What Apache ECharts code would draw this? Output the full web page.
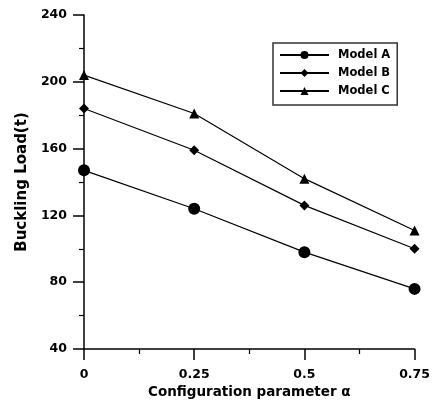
<!DOCTYPE html>
<html>
<head>
    <meta charset="utf-8">
    <title>Buckling Load</title>
    <script src="https://cdn.jsdelivr.net/npm/echarts@6.0.0/dist/echarts.min.js"></script>
    <style>
        html, body { margin: 0; padding: 0; background: #fff; }
        #chart { width: 433px; height: 405px; }
    </style>
</head>
<body>
    <div id="chart"></div>
    <script>
        // data
        const alphas = [0, 0.25, 0.5, 0.75];
        const modelA = [147, 124, 98, 76];
        const modelB = [184, 159, 126, 100];
        const modelC = [204, 181, 142, 111];
        const seriesNames = ['Model A', 'Model B', 'Model C'];

        const font = 'DejaVu Sans';
        const chart = echarts.init(document.getElementById('chart'));

        function pairs(vals) {
            return alphas.map((a, i) => [a, vals[i]]);
        }

        function lineSeries(name, vals, symbol, size) {
            return {
                name: name,
                type: 'line',
                data: pairs(vals),
                symbol: symbol,
                symbolSize: size,
                itemStyle: { color: '#000' },
                lineStyle: { color: '#000', width: 1.2 },
                emphasis: { disabled: true },
                animation: false
            };
        }

        const axisCommon = {
            axisLine: { lineStyle: { color: '#000', width: 1.5 } },
            axisTick: { show: true, length: 11, lineStyle: { color: '#000', width: 1.5 } },
            minorTick: { show: true, splitNumber: 2, length: 5, lineStyle: { color: '#000', width: 1.2 } },
            splitLine: { show: false },
            axisLabel: { color: '#000', fontFamily: font, fontWeight: 'bold', fontSize: 12.5 },
            nameTextStyle: { color: '#000', fontFamily: font, fontWeight: 'bold' }
        };

        chart.setOption({
            backgroundColor: '#fff',
            animation: false,
            grid: { left: 84, right: 16, top: 15, bottom: 56, containLabel: false },
            legend: {
                data: seriesNames,
                orient: 'vertical',
                left: 273,
                top: 43,
                padding: [6, 7, 8, 6],
                itemWidth: 49,
                itemHeight: 10,
                itemGap: 6,
                borderColor: '#333',
                borderWidth: 1.5,
                textStyle: { color: '#000', fontFamily: font, fontWeight: 'bold', fontSize: 11.5, padding: [0, 0, 0, 4] }
            },
            xAxis: Object.assign({}, axisCommon, {
                type: 'value',
                min: 0,
                max: 0.75,
                interval: 0.25,
                name: 'Configuration parameter α',
                nameLocation: 'middle',
                nameGap: 31,
                nameTextStyle: Object.assign({}, axisCommon.nameTextStyle, { fontSize: 13.5 }),
                axisLabel: Object.assign({}, axisCommon.axisLabel, { margin: 19 })
            }),
            yAxis: Object.assign({}, axisCommon, {
                type: 'value',
                min: 40,
                max: 240,
                interval: 40,
                name: 'Buckling Load(t)',
                nameLocation: 'middle',
                nameGap: 47,
                nameTextStyle: Object.assign({}, axisCommon.nameTextStyle, { fontSize: 15 }),
                axisLabel: Object.assign({}, axisCommon.axisLabel, { margin: 17 })
            }),
            series: [
                lineSeries(seriesNames[0], modelA, 'circle', 12),
                lineSeries(seriesNames[1], modelB, 'diamond', 10),
                lineSeries(seriesNames[2], modelC, 'triangle', 10)
            ]
        });
    </script>
</body>
</html>
